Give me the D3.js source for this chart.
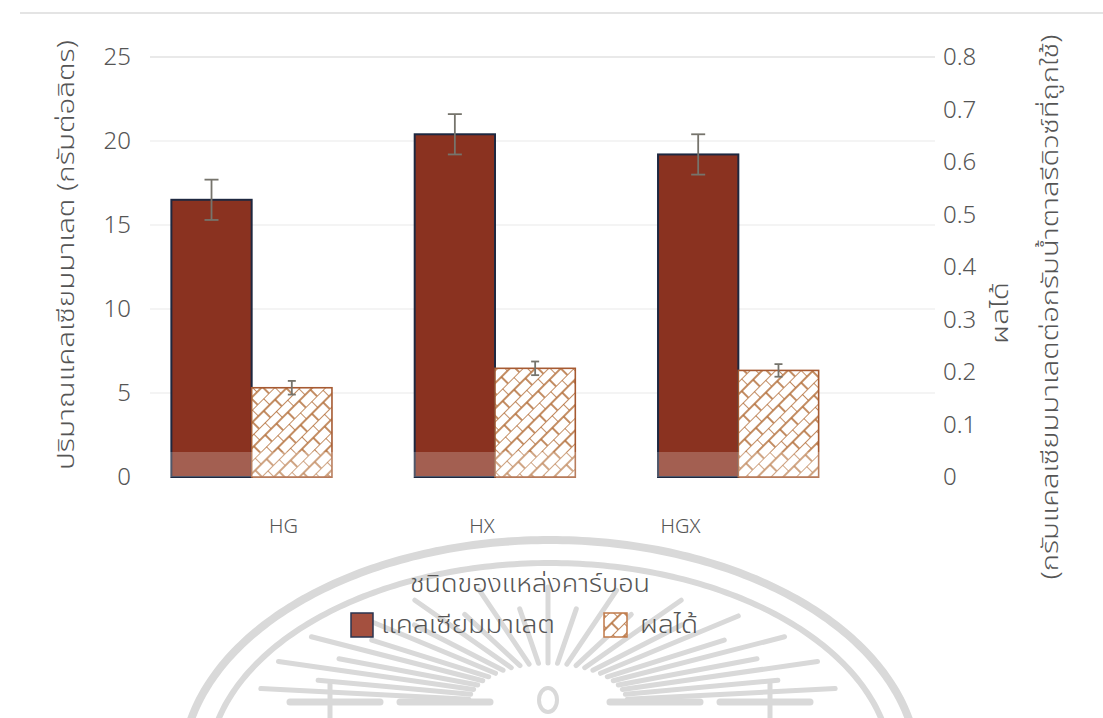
<!DOCTYPE html>
<html lang="th">
<head>
<meta charset="utf-8">
<script src="https://cdn.jsdelivr.net/npm/d3@7"></script>
<style>
  html, body { margin: 0; padding: 0; background: #fff; }
  svg { display: block; }
  text { font-family: "Noto Sans Thai", "Noto Sans Thai UI", "Leelawadee UI", "Open Sans", "Noto Sans", sans-serif; font-weight: 300; fill: #555; }
</style>
</head>
<body>
<svg id="chart" width="1103" height="718"></svg>
<script>
// Carbon source treatments
const categories = ["HG", "HX", "HGX"];
// Calcium malate concentration (g/L) with standard deviation
const malate = [16.5, 20.4, 19.2];
const malateErr = [1.2, 1.2, 1.2];
// Yield (g calcium malate per g reducing sugar consumed) with standard deviation
const yieldVals = [0.17, 0.207, 0.203];
const yieldErr = [0.013, 0.013, 0.012];
// Axis ticks
const leftTicks = [0, 5, 10, 15, 20, 25];
const rightTicks = [0, 0.1, 0.2, 0.3, 0.4, 0.5, 0.6, 0.7, 0.8];

const seriesNames = ["แคลเซียมมาเลต", "ผลได้"];
const leftTitle = "ปริมาณแคลเซียมมาเลต (กรัมต่อลิตร)";
const rightTitle1 = "ผลได้";
const rightTitle2 = "(กรัมแคลเซียมมาเลตต่อกรัมน้ำตาลรีดิวซ์ที่ถูกใช้)";
const legendTitle = "ชนิดของแหล่งคาร์บอน";

const svg = d3.select("#chart");
const W = 1103, H = 718;
const plotBase = 477, plotTop = 57;

const x = d3.scaleBand().domain(categories).range([130, 860]).paddingInner(0.34).paddingOuter(0.17);
const xs = d3.scaleBand().domain([0, 1]).range([0, x.bandwidth()]);
const y = d3.scaleLinear().domain([0, 25]).range([plotBase, plotTop]);
const y2 = d3.scaleLinear().domain([0, 0.8]).range([plotBase, plotTop]);
const xLabel = d3.scalePoint().domain(categories).range([283, 680]);

// Diagonal brick hatch for the yield bars
const defs = svg.append("defs");
const pw = 16, ph = 18;
const pat = defs.append("pattern")
  .attr("id", "hatch").attr("patternUnits", "userSpaceOnUse")
  .attr("width", pw).attr("height", ph)
  .attr("patternTransform", "rotate(-45)");
pat.append("rect").attr("width", pw).attr("height", ph).attr("fill", "#fff");
[[0, 0, pw, 0], [0, ph / 2, pw, ph / 2], [0, 0, 0, ph / 2], [pw / 2, ph / 2, pw / 2, ph]].forEach(l => {
  pat.append("line").attr("x1", l[0]).attr("y1", l[1]).attr("x2", l[2]).attr("y2", l[3])
    .attr("stroke", "#b4703c").attr("stroke-width", 1.6);
});

// Faint emblem in the background
const wm = svg.append("g").attr("fill", "none").attr("stroke", "#d9d9d9").attr("stroke-linecap", "round");
const ecx = 550, ecy = 770;
const arcPath = (rx, ry) => {
  const pts = d3.range(181, 360).map(a => {
    const t = a * Math.PI / 180;
    return [ecx + rx * Math.cos(t), ecy + ry * Math.sin(t)];
  });
  return d3.line()(pts);
};
wm.append("path").attr("d", arcPath(368, 230)).attr("stroke-width", 8);
wm.append("path").attr("d", arcPath(342, 207)).attr("stroke-width", 6);
const rc = [548, 705];
d3.range(0, 25).forEach(i => {
  const a = (172 - i * (164 / 24)) * Math.PI / 180;
  const k = i % 2 ? 0.82 : 1;
  const x0 = rc[0] + 80 * Math.cos(a), y0 = rc[1] - 42 * Math.sin(a);
  const x1 = rc[0] + 290 * k * Math.cos(a), y1 = rc[1] - 118 * k * Math.sin(a);
  wm.append("line").attr("x1", x0).attr("y1", y0).attr("x2", x1).attr("y2", y1).attr("stroke-width", 5);
});
wm.append("ellipse").attr("cx", 548).attr("cy", 700).attr("rx", 9).attr("ry", 12).attr("stroke-width", 4);
[[290, 380], [400, 490], [610, 700], [720, 810]].forEach(s => {
  wm.append("line").attr("x1", s[0]).attr("x2", s[1]).attr("y1", 702).attr("y2", 702).attr("stroke-width", 7);
});
[330, 770].forEach(px => {
  wm.append("line").attr("x1", px).attr("x2", px).attr("y1", 684).attr("y2", 718).attr("stroke-width", 5);
});

// Thin rule along the top
svg.append("line").attr("x1", 20).attr("x2", W).attr("y1", 13).attr("y2", 13)
  .attr("stroke", "#e4e4e4").attr("stroke-width", 2);

// Horizontal gridlines
svg.append("g").selectAll("line").data(leftTicks.filter(d => d > 0)).join("line")
  .attr("x1", 150).attr("x2", 935)
  .attr("y1", d => y(d)).attr("y2", d => y(d))
  .attr("stroke", d => d === 25 ? "#e2e2e2" : "#f1f1f1").attr("stroke-width", 1.5);

// Left axis
const gL = svg.append("g").attr("transform", "translate(131,0)")
  .call(d3.axisLeft(y).tickValues(leftTicks).tickSize(0).tickPadding(0).tickFormat(d3.format("d")));
gL.select(".domain").remove();
gL.selectAll("text").attr("font-size", 24).attr("fill", "#555").attr("font-family", null);

// Right axis
const gR = svg.append("g").attr("transform", "translate(943,0)")
  .call(d3.axisRight(y2).tickValues(rightTicks).tickSize(0).tickPadding(0)
    .tickFormat(d => d === 0 ? "0" : d3.format(".1f")(d)));
gR.select(".domain").remove();
gR.selectAll("text").attr("font-size", 24).attr("fill", "#555").attr("font-family", null);

// Category labels
const gX = svg.append("g").attr("transform", `translate(0,${plotBase + 42})`)
  .call(d3.axisBottom(xLabel).tickSize(0).tickPadding(0));
gX.select(".domain").remove();
gX.selectAll("text").attr("font-size", 20).attr("fill", "#555").attr("font-family", null);

// Calcium malate bars
svg.append("g").selectAll("rect").data(categories).join("rect")
  .attr("x", d => x(d) + xs(0)).attr("width", xs.bandwidth())
  .attr("y", (d, i) => y(malate[i])).attr("height", (d, i) => plotBase - y(malate[i]))
  .attr("fill", "#8a3220").attr("stroke", "#1e2840").attr("stroke-width", 2);

// Yield bars
svg.append("g").selectAll("rect").data(categories).join("rect")
  .attr("x", d => x(d) + xs(1)).attr("width", xs.bandwidth())
  .attr("y", (d, i) => y2(yieldVals[i])).attr("height", (d, i) => plotBase - y2(yieldVals[i]))
  .attr("fill", "url(#hatch)").attr("stroke", "#a65a32").attr("stroke-width", 1.6);

// Pale band across the foot of the plot
svg.append("rect").attr("x", 150).attr("width", 785).attr("y", 452).attr("height", plotBase - 452)
  .attr("fill", "#fff").attr("opacity", 0.22);

// Error bars
function errorBars(vals, errs, scale, sub, cap) {
  const g = svg.append("g").attr("stroke", "#76746c").attr("stroke-width", 1.8);
  categories.forEach((c, i) => {
    const cxp = x(c) + xs(sub) + xs.bandwidth() / 2;
    const hi = scale(vals[i] + errs[i]), lo = scale(vals[i] - errs[i]);
    g.append("line").attr("x1", cxp).attr("x2", cxp).attr("y1", hi).attr("y2", lo);
    g.append("line").attr("x1", cxp - cap).attr("x2", cxp + cap).attr("y1", hi).attr("y2", hi);
    g.append("line").attr("x1", cxp - cap).attr("x2", cxp + cap).attr("y1", lo).attr("y2", lo);
  });
}
errorBars(malate, malateErr, y, 0, 7);
errorBars(yieldVals, yieldErr, y2, 1, 4);

// Thai labels stretched to the run length they occupy
function thai(sel, len) {
  return sel.attr("textLength", len).attr("lengthAdjust", "spacingAndGlyphs");
}

// Axis titles
thai(svg.append("text").attr("transform", "translate(74,255) rotate(-90)")
  .attr("text-anchor", "middle").attr("font-size", 23).text(leftTitle), 430);
thai(svg.append("text").attr("transform", "translate(1008,313) rotate(-90)")
  .attr("text-anchor", "middle").attr("font-size", 23).text(rightTitle1), 62);
thai(svg.append("text").attr("transform", "translate(1058,307) rotate(-90)")
  .attr("text-anchor", "middle").attr("font-size", 23).text(rightTitle2), 545);

// Legend
thai(svg.append("text").attr("x", 530).attr("y", 592).attr("text-anchor", "middle")
  .attr("font-size", 24).text(legendTitle), 240);
const leg = svg.append("g");
leg.append("rect").attr("x", 351).attr("y", 613).attr("width", 22).attr("height", 24)
  .attr("fill", "#a4503f").attr("stroke", "#2a3450").attr("stroke-width", 1.5);
thai(leg.append("text").attr("x", 381).attr("y", 633).attr("font-size", 24).text(seriesNames[0]), 174);
leg.append("rect").attr("x", 604).attr("y", 613).attr("width", 23).attr("height", 24)
  .attr("fill", "url(#hatch)").attr("stroke", "#c07a4a").attr("stroke-width", 1.5);
thai(leg.append("text").attr("x", 640).attr("y", 633).attr("font-size", 24).text(seriesNames[1]), 58);
</script>
</body>
</html>
